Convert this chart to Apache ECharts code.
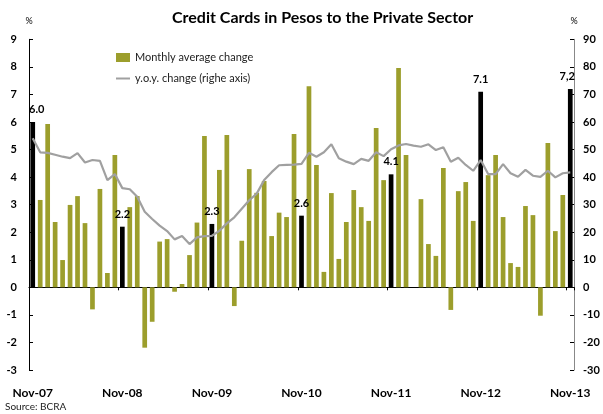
<!DOCTYPE html>
<html>
<head>
<meta charset="utf-8">
<script src="https://cdn.jsdelivr.net/npm/echarts@6/dist/echarts.min.js"></script>
<style>
  html, body { margin: 0; padding: 0; background: #fff; }
  #chart { width: 603px; height: 414px; }
</style>
</head>
<body>
<div id="chart"></div>
<script>
// Months from Nov-07 to Nov-13
const monthNames = ['Jan','Feb','Mar','Apr','May','Jun','Jul','Aug','Sep','Oct','Nov','Dec'];
const months = [];
for (let k = 0; k < 73; k++) {
  const m = (10 + k) % 12;
  const y = 7 + Math.floor((10 + k) / 12);
  months.push(monthNames[m] + '-' + (y < 10 ? '0' + y : String(y)));
}

// Monthly average change (%), left axis
const monthlyChange = [
  6.0, 3.17, 5.93, 2.37, 0.99, 2.99, 3.31, 2.33, -0.80, 3.57, 0.52, 4.80,
  2.2, 2.91, 3.31, -2.19, -1.25, 1.66, 1.75, -0.16, 0.12, 1.17, 2.35, 5.49,
  2.3, 4.26, 5.53, -0.68, 1.69, 4.29, 3.43, 3.86, 1.86, 2.71, 2.55, 5.56,
  2.6, 7.30, 4.44, 0.56, 3.42, 1.03, 2.37, 3.53, 2.91, 2.41, 5.78, 3.89,
  4.1, 7.96, 4.80, 0, 3.20, 1.57, 1.14, 4.33, -0.82, 3.49, 3.82, 2.41,
  7.1, 4.07, 4.80, 2.55, 0.88, 0.74, 2.95, 2.62, -1.03, 5.24, 2.04, 3.35,
  7.2
];

// Year-on-year change (%), right axis
const yoyChange = [
  54.1, 49.0, 48.8, 48.1, 47.4, 46.9, 48.7, 45.3, 46.2, 45.9, 38.9, 41.1,
  36.0, 35.6, 32.9, 27.4, 24.8, 22.4, 20.4, 17.4, 18.6, 15.7, 18.1, 18.6,
  18.7, 20.5, 23.2, 25.4, 28.5, 31.6, 34.0, 38.9, 41.8, 44.3, 44.4, 44.5,
  44.8, 48.8, 47.4, 49.0, 51.9, 46.8, 45.6, 44.7, 46.6, 45.9, 49.0, 47.6,
  50.1, 51.5, 52.0, 51.4, 51.0, 51.9, 49.8, 50.8, 45.6, 47.0, 44.4, 42.3,
  46.2, 41.1, 41.1, 44.7, 41.4, 40.1, 42.6, 40.5, 40.1, 42.3, 39.9, 41.4,
  41.7
];

// November values are highlighted and annotated
const novLabels = ['6.0', '2.2', '2.3', '2.6', '4.1', '7.1', '7,2'];

const OLIVE = '#9c9e2c';
const GREY = '#a0a0a0';
const FONT = 'Lato';

const barData = monthlyChange.map((v, i) => {
  const isNov = i % 12 === 0;
  const item = { value: v, itemStyle: { color: isNov ? '#000' : OLIVE } };
  if (isNov) {
    const n = i / 12;
    item.label = {
      show: true, position: 'top', distance: 7,
      offset: [n === 0 ? 4 : (n === novLabels.length - 1 ? -3 : 0), 0],
      formatter: novLabels[n],
      fontFamily: FONT, fontWeight: 'bold', fontSize: 11, color: '#000'
    };
  }
  return item;
});

const chart = echarts.init(document.getElementById('chart'), null, { renderer: 'canvas' });
chart.setOption({
  animation: false,
  textStyle: { fontFamily: FONT },
  title: [
    {
      text: 'Credit Cards in Pesos to the Private Sector',
      left: 172, top: 10, padding: 0,
      textStyle: { fontFamily: FONT, fontWeight: 'bold', fontSize: 16, color: '#000' }
    },
    {
      text: 'Source: BCRA',
      left: 5, top: 402, padding: 0,
      textStyle: { fontFamily: FONT, fontWeight: 'normal', fontSize: 10, color: '#222' }
    }
  ],
  legend: {
    orient: 'vertical',
    left: 115, top: 52, padding: 0,
    itemWidth: 14, itemHeight: 9, itemGap: 10,
    textStyle: { fontFamily: FONT, fontSize: 11, color: '#222' },
    data: [
      { name: 'Monthly average change', icon: 'rect' },
      { name: 'y.o.y. change (righe axis)', itemStyle: { opacity: 0 } }
    ]
  },
  grid: { left: 29, right: 29, top: 39.3, bottom: 44, containLabel: false },
  xAxis: [
    {
      type: 'category', data: months, position: 'bottom',
      axisLine: { show: false, onZero: false },
      axisTick: { show: false },
      axisLabel: {
        interval: 11, margin: 17,
        fontFamily: FONT, fontWeight: 'bold', fontSize: 12, color: '#000'
      }
    },
    {
      type: 'category', data: months, position: 'top',
      axisLine: { show: true, onZero: true, lineStyle: { color: '#000', width: 1.2 } },
      axisTick: { show: true, interval: 11, inside: true, length: 3, lineStyle: { color: '#000' } },
      axisLabel: { show: false }
    }
  ],
  yAxis: [
    {
      type: 'value', min: -3, max: 9, interval: 1, position: 'left',
      name: '%', nameLocation: 'end', nameGap: 14,
      nameTextStyle: { fontFamily: FONT, fontSize: 9, color: '#000', align: 'center' },
      axisLine: { show: true, lineStyle: { color: '#000', width: 1 } },
      axisTick: { show: true, inside: true, length: 4, lineStyle: { color: '#000' } },
      splitLine: { show: false },
      axisLabel: { margin: 12, fontFamily: FONT, fontWeight: 'bold', fontSize: 11, color: '#000' }
    },
    {
      type: 'value', min: -30, max: 90, interval: 10, position: 'right',
      name: '%', nameLocation: 'end', nameGap: 14,
      nameTextStyle: { fontFamily: FONT, fontSize: 9, color: '#000', align: 'center' },
      axisLine: { show: true, lineStyle: { color: '#888', width: 1 } },
      axisTick: { show: true, inside: true, length: 4, lineStyle: { color: '#000' } },
      splitLine: { show: false },
      axisLabel: { margin: 9, fontFamily: FONT, fontWeight: 'bold', fontSize: 11, color: '#000' }
    }
  ],
  series: [
    {
      name: 'Monthly average change',
      type: 'bar', xAxisIndex: 0, yAxisIndex: 0,
      data: barData,
      barCategoryGap: '37%',
      itemStyle: { color: OLIVE },
      z: 2
    },
    {
      name: 'y.o.y. change (righe axis)',
      type: 'line', xAxisIndex: 0, yAxisIndex: 1,
      data: yoyChange,
      symbol: 'none',
      lineStyle: { color: GREY, width: 2.2 },
      itemStyle: { color: GREY },
      z: 3
    }
  ]
});
</script>
</body>
</html>
